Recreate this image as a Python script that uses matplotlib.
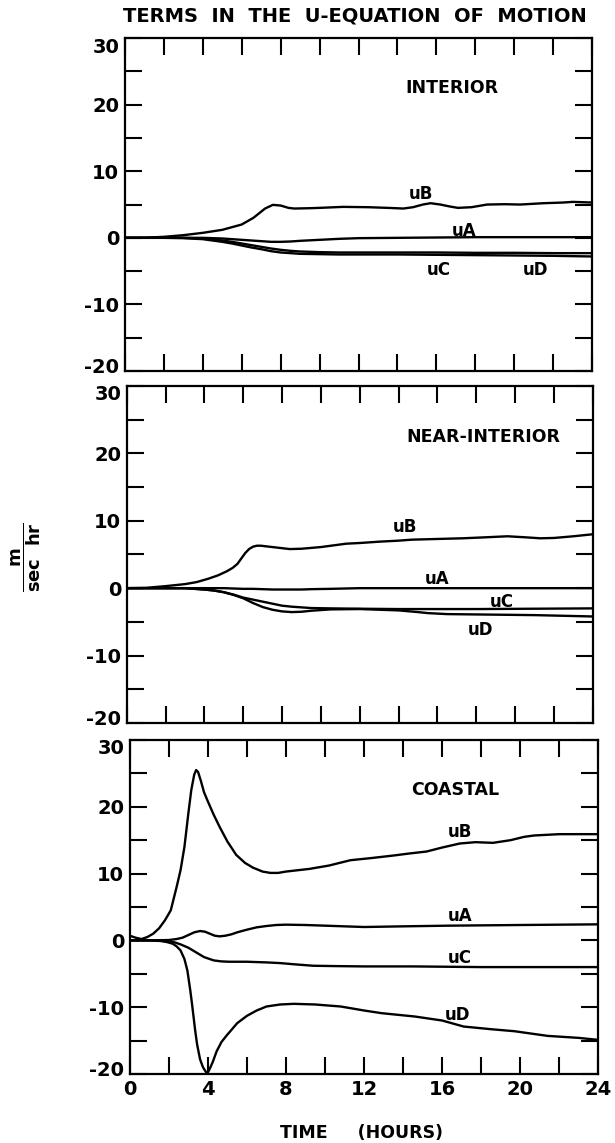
import numpy as np
import matplotlib.pyplot as plt
from matplotlib.ticker import MultipleLocator
from matplotlib.transforms import ScaledTranslation

plt.rcParams['font.family'] = ['DejaVu Sans']
plt.rcParams['font.weight'] = 'bold'
plt.rcParams['mathtext.fontset'] = 'dejavusans'

# ---- INTERIOR ----
int_t_b = [0, 1, 2, 3, 4, 5, 5.5, 6, 6.3, 6.6, 6.9, 7.2, 7.6, 8.0, 8.4, 8.7, 9.5, 10, 11.2, 12.5, 13.5,
           14.3, 14.8, 15.3, 15.7, 16.2, 16.7, 17.1, 17.8, 18.6, 19.5, 20.3, 21.5, 22.5, 23, 24]
int_uB = [0, 0.02, 0.15, 0.4, 0.75, 1.2, 1.6, 2.0, 2.5, 3.0, 3.7, 4.4, 4.95, 4.85, 4.5, 4.4, 4.45, 4.5, 4.65, 4.6, 4.5,
          4.4, 4.6, 5.0, 5.2, 5.0, 4.7, 4.5, 4.6, 5.0, 5.05, 5.0, 5.2, 5.3, 5.4, 5.3]
int_t = [0, 2, 3, 4, 4.5, 5, 5.5, 6, 6.5, 7, 7.5, 8, 8.5, 9, 10, 11, 12, 14, 16, 18, 20, 22, 24]
int_uA = [0, 0, 0, 0, -0.05, -0.1, -0.2, -0.3, -0.4, -0.5, -0.6, -0.6, -0.55, -0.45, -0.3, -0.15, -0.05, 0, 0.05, 0.1, 0.1, 0.1, 0.1]
int_uC = [0, 0, 0, -0.1, -0.25, -0.4, -0.6, -0.85, -1.1, -1.35, -1.6, -1.8, -1.95, -2.05, -2.15, -2.2, -2.2, -2.2, -2.2, -2.25, -2.25, -2.3, -2.3]
int_uD = [0, 0, -0.05, -0.2, -0.4, -0.6, -0.85, -1.15, -1.45, -1.7, -2.0, -2.2, -2.3, -2.4, -2.45, -2.5, -2.5, -2.5, -2.55, -2.6, -2.65, -2.7, -2.8]

# ---- NEAR-INTERIOR ----
nint_t_b = [0, 1, 2, 3, 3.6, 4.2, 4.7, 5.15, 5.45, 5.7, 5.9, 6.1, 6.3, 6.5, 6.7, 6.9, 7.2, 7.8, 8.4, 9.0, 10, 11.3,
            12, 13, 14, 14.7, 16, 17.3, 18.5, 19.6, 20.5, 21.3, 22, 23, 24]
nint_uB = [0, 0.05, 0.3, 0.6, 0.9, 1.4, 1.9, 2.5, 3.0, 3.6, 4.4, 5.2, 5.8, 6.15, 6.3, 6.3, 6.2, 6.0, 5.8, 5.85, 6.1, 6.6,
           6.7, 6.9, 7.05, 7.2, 7.3, 7.4, 7.55, 7.7, 7.55, 7.4, 7.45, 7.7, 8.0]
nint_t = [0, 2, 3, 4, 4.5, 5, 5.5, 6, 6.5, 7, 7.5, 8, 8.5, 9, 9.5, 10.5, 12, 14, 15, 15.5, 16.5, 18, 21, 24]
nint_uA = [0, 0, 0, 0, 0, 0, -0.05, -0.1, -0.1, -0.15, -0.2, -0.2, -0.2, -0.2, -0.15, -0.1, 0, 0, 0, 0, 0, 0, 0, 0]
nint_uC = [0, 0, 0, -0.2, -0.35, -0.6, -0.95, -1.4, -1.7, -2.0, -2.3, -2.6, -2.75, -2.85, -2.95, -3.0, -3.05, -3.1,
           -3.1, -3.1, -3.1, -3.1, -3.05, -3.0]
nint_uD = [0, 0, 0, -0.2, -0.35, -0.6, -1.0, -1.5, -2.2, -2.8, -3.2, -3.45, -3.55, -3.5, -3.35, -3.15, -3.1, -3.3,
           -3.55, -3.7, -3.85, -3.9, -4.0, -4.2]

# ---- COASTAL ----
coast_t_b = [0, 0.3, 0.6, 0.9, 1.2, 1.5, 1.8, 2.1, 2.4, 2.6, 2.8, 3.0, 3.15, 3.3, 3.4, 3.5, 3.65, 3.8, 4.0, 4.3, 4.6,
             5.0, 5.45, 5.9, 6.3, 6.8, 7.2, 7.6, 8.0, 8.6, 9.2, 10.2, 11.3, 12.3, 13.5, 14.3, 15.2, 16.0, 16.9,
             17.7, 18.6, 19.5, 20.2, 20.7, 22, 24]
coast_uB = [0.7, 0.4, 0.2, 0.5, 1.0, 1.8, 3.0, 4.5, 8.0, 10.5, 14.0, 19.0, 22.5, 24.8, 25.5, 25.2, 23.8, 22.2, 20.8,
            18.8, 17.0, 14.8, 12.8, 11.6, 10.9, 10.3, 10.1, 10.1, 10.3, 10.5, 10.7, 11.2, 12.0, 12.3, 12.7, 13.0,
            13.3, 13.9, 14.5, 14.7, 14.6, 15.0, 15.5, 15.7, 15.9, 15.9]
coast_t_a = [0, 1, 2, 2.4, 2.7, 3.0, 3.3, 3.6, 3.85, 4.1, 4.35, 4.6, 4.9, 5.2, 5.5, 6.0, 6.5, 7.0, 7.5, 8.0, 9, 10,
             11, 12, 13, 14, 16.3, 20, 24]
coast_uA = [0, 0, 0.05, 0.2, 0.4, 0.8, 1.2, 1.4, 1.3, 1.0, 0.7, 0.6, 0.7, 0.9, 1.2, 1.6, 1.95, 2.15, 2.3, 2.35, 2.3,
            2.2, 2.1, 2.0, 2.05, 2.1, 2.2, 2.3, 2.4]
coast_t_c = [0, 1, 1.9, 2.3, 2.6, 3.0, 3.4, 3.8, 4.3, 4.7, 5.1, 6, 7, 7.7, 8.5, 9.4, 10.5, 12, 14.5, 18, 24]
coast_uC = [0, 0, -0.1, -0.3, -0.6, -1.1, -1.8, -2.5, -3.0, -3.15, -3.2, -3.2, -3.3, -3.4, -3.6, -3.8, -3.85, -3.9,
            -3.9, -4.0, -4.0]
coast_t_d = [0, 1, 1.6, 1.9, 2.2, 2.4, 2.6, 2.8, 2.95, 3.1, 3.2, 3.35, 3.45, 3.6, 3.75, 3.9, 3.98, 4.1, 4.25, 4.45,
             4.7, 5.0, 5.15, 5.5, 6.0, 6.5, 7.0, 7.7, 8.4, 9.5, 10.8, 12, 12.9, 14.6, 16, 17.1, 18.5, 19.7, 21.4, 23, 24]
coast_uD = [0, 0, -0.1, -0.25, -0.5, -0.9, -1.5, -2.8, -4.5, -7.5, -9.8, -13.5, -15.6, -17.8, -19.0, -19.7, -19.9,
            -19.2, -18.2, -16.6, -15.2, -14.1, -13.6, -12.4, -11.3, -10.5, -9.9, -9.6, -9.5, -9.6, -9.9, -10.5,
            -10.9, -11.4, -12.0, -12.9, -13.3, -13.6, -14.3, -14.6, -14.9]

panel_names = ["INTERIOR", "NEAR-INTERIOR", "COASTAL"]
x_ticks = [0, 4, 8, 12, 16, 20, 24]
y_ticks = [-20, -10, 0, 10, 20, 30]

panels = [
  [(int_t, int_uA), (int_t_b, int_uB), (int_t, int_uC), (int_t, int_uD)],
  [(nint_t, nint_uA), (nint_t_b, nint_uB), (nint_t, nint_uC), (nint_t, nint_uD)],
  [(coast_t_a, coast_uA), (coast_t_b, coast_uB), (coast_t_c, coast_uC), (coast_t_d, coast_uD)],
]
# curve label positions (time, value) for uA, uB, uC, uD
label_pos = [
  [(17.4, 1.05), (15.2, 6.6), (16.1, -4.8), (21.1, -4.8)],
  [(16.0, 1.35), (14.3, 9.1), (19.3, -2.1), (18.2, -6.2)],
  [(16.9, 3.7), (16.9, 16.2), (16.9, -2.6), (16.8, -11.2)],
]
names = ["uA", "uB", "uC", "uD"]

fig = plt.figure(figsize=(6.15, 11.43), dpi=100)
axes_rects = [
  [0.203, 0.6754, 0.76, 0.2913],
  [0.206, 0.3675, 0.758, 0.2948],
  [0.211, 0.0604, 0.762, 0.2922],
]

for i, rect in enumerate(axes_rects):
  ax = fig.add_axes(rect)
  for (t, v) in panels[i]:
    ax.plot(t, v, color="black", lw=1.7, solid_joinstyle="round")
  for name, (lx, ly) in zip(names, label_pos[i]):
    ax.text(lx, ly, name, fontsize=12, ha="center", va="center", fontweight="bold")
  ax.text(0.60, 0.85, panel_names[i], transform=ax.transAxes, fontsize=12.5,
          ha="left", va="center", fontweight="bold")

  ax.set_xlim(0, 24)
  ax.set_ylim(-20, 30)
  ax.xaxis.set_minor_locator(MultipleLocator(2))
  ax.yaxis.set_minor_locator(MultipleLocator(5))
  ax.tick_params(which="both", direction="in", length=12, width=1.5,
                 top=True, right=True, labelsize=14, pad=4)
  for s in ax.spines.values():
    s.set_linewidth(1.6)
  ax.set_yticks(y_ticks)
  ax.set_yticklabels([str(v) for v in y_ticks], fontweight="bold")
  # nudge end labels so neighbouring panels' labels don't collide
  ylabs = ax.get_yticklabels()
  ylabs[0].set_transform(ylabs[0].get_transform() + ScaledTranslation(0, 4/72, fig.dpi_scale_trans))
  ylabs[-1].set_transform(ylabs[-1].get_transform() + ScaledTranslation(0, -5/72, fig.dpi_scale_trans))
  ax.set_xticks(x_ticks)
  if i == 2:
    ax.set_xticklabels([str(v) for v in x_ticks], fontweight="bold")
  else:
    ax.set_xticklabels([])

fig.text(0.577, 0.9856, "TERMS  IN  THE  U-EQUATION  OF  MOTION", fontsize=14,
         ha="center", va="center", fontweight="bold")
fig.text(0.587, 0.0087, "TIME     (HOURS)", fontsize=12.5, ha="center", va="center",
         fontweight="bold")
fig.text(0.042, 0.513, r"$\dfrac{\mathbf{m}}{\mathbf{sec\ \ hr}}$", fontsize=13,
         rotation=90, ha="center", va="center")

fig.savefig("out.png", dpi=100)
